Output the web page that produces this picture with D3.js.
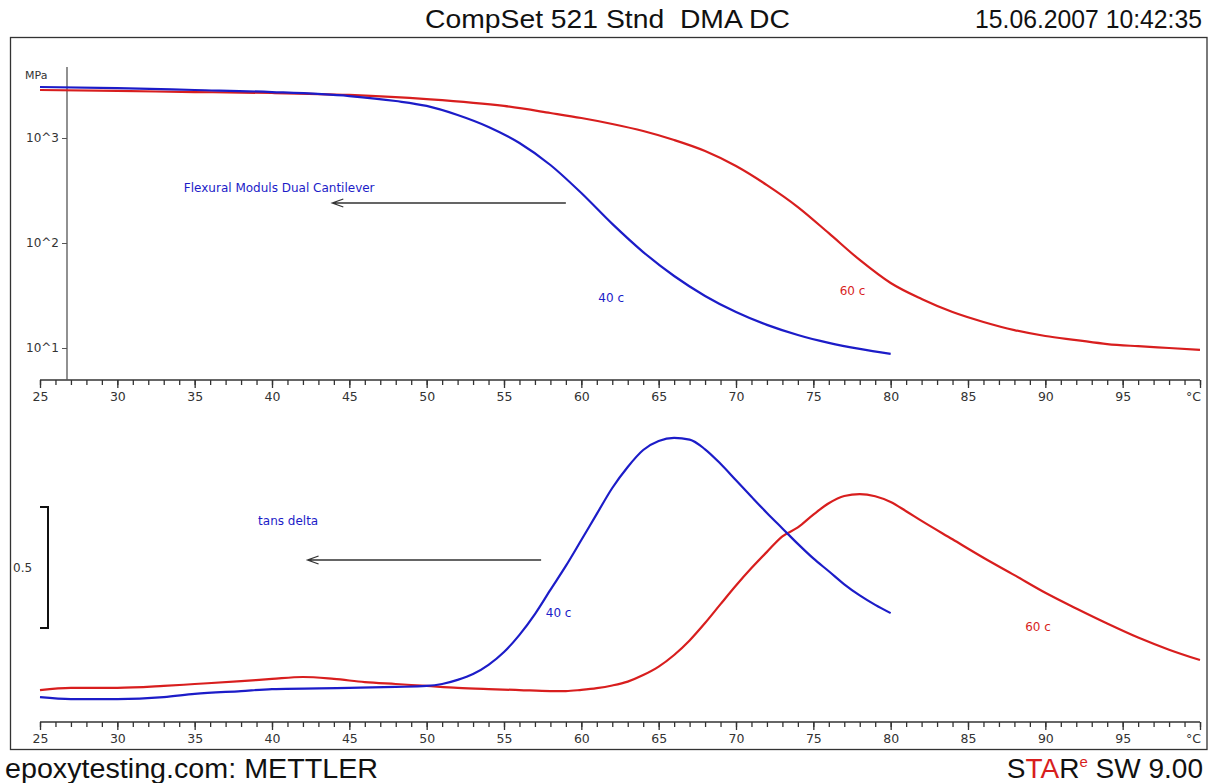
<!DOCTYPE html>
<html><head><meta charset="utf-8">
<script src="https://cdn.jsdelivr.net/npm/d3@7/dist/d3.min.js"></script>
<style>
html,body{margin:0;padding:0;background:#fff;}
svg{display:block;}
</style></head>
<body><svg id="c" width="1210" height="783"></svg>
<script>
// ---- data ----
const modTemp40 = [25,30,35,40,45,48,50,52,54,56,58,60,62,64,66,68,70,72,74,76,78,80];
const modVal40  = [3060,2990,2865,2740,2510,2250,2020,1655,1273,896,553,299,152,82,48.5,31.3,22.0,16.6,13.3,11.2,9.8,8.8];
const modTemp60 = [25,30,35,40,45,50,55,58,60,62,64,66,68,70,72,74,76,78,80,82,84,86,88,90,92,94,96,98,100];
const modVal60  = [2865,2805,2740,2683,2570,2350,2020,1730,1550,1360,1166,957,752,541,356,220,124,69,41.6,29.3,22.0,17.7,14.8,13.0,11.9,10.9,10.4,10.0,9.6];
const tanTemp40 = [25,27,30,33,35,38,40,45,48,50,51,52,53,54,55,56,57,58,59,60,61,62,63,64,65,66,67,68,69,70,71,72,73,74,75,76,77,78,79,80];
const tanVal40  = [0.074,0.066,0.066,0.074,0.087,0.099,0.107,0.112,0.116,0.120,0.128,0.145,0.169,0.207,0.260,0.331,0.417,0.517,0.616,0.723,0.831,0.938,1.025,1.095,1.132,1.145,1.138,1.098,1.038,0.970,0.902,0.835,0.771,0.707,0.647,0.594,0.540,0.494,0.455,0.421];
const tanTemp60 = [25,27,30,33,35,38,40,42,44,46,48,50,52,54,56,58,59,60,61,62,63,64,65,66,67,68,69,70,71,72,73,74,75,76,77,78,79,80,81,82,84,86,88,90,92,94,96,98,100];
const tanVal60  = [0.103,0.112,0.112,0.120,0.128,0.140,0.149,0.157,0.149,0.136,0.128,0.120,0.112,0.107,0.103,0.099,0.099,0.104,0.111,0.122,0.138,0.165,0.200,0.248,0.308,0.380,0.458,0.535,0.607,0.674,0.738,0.775,0.828,0.875,0.905,0.913,0.904,0.880,0.842,0.802,0.726,0.650,0.578,0.505,0.440,0.378,0.320,0.270,0.227];
const xTickLabels = ["25","30","35","40","45","50","55","60","65","70","75","80","85","90","95","°C"];
const yTickValues = [1000,100,10];
const yTickLabels = ["10^3","10^2","10^1"];

const BLUE = "#1c1cc8", RED = "#d81e1e";
const FONT = "'DejaVu Sans',Verdana,sans-serif";
const svg = d3.select("#c");

// ---- scales ----
const x = d3.scaleLinear().domain([25,100]).range([40,1200]);
const yMod = d3.scaleLog().domain([10,1000]).range([348,138]);
const yTan = d3.scaleLinear().domain([0,0.5]).range([715,594]);

// frame
svg.append("rect").attr("x",10.5).attr("y",37.5).attr("width",1196.5).attr("height",712)
  .attr("fill","none").attr("stroke","#333").attr("stroke-width",1.3);

// header / footer
svg.append("text").attr("x",425).attr("y",28)
  .attr("textLength",365).attr("lengthAdjust","spacingAndGlyphs")
  .style("font-family","'Liberation Sans',Arial,sans-serif")
  .style("font-size","25px").attr("fill","#111").text("CompSet 521 Stnd\u00a0\u00a0DMA DC");
svg.append("text").attr("x",975).attr("y",28)
  .attr("textLength",227).attr("lengthAdjust","spacingAndGlyphs")
  .style("font-family","'Liberation Sans',Arial,sans-serif")
  .style("font-size","25px").attr("fill","#111").text("15.06.2007 10:42:35");
svg.append("text").attr("x",5).attr("y",778)
  .attr("textLength",373).attr("lengthAdjust","spacingAndGlyphs")
  .style("font-family","'Liberation Sans',Arial,sans-serif")
  .style("font-size","27px").attr("fill","#111").text("epoxytesting.com: METTLER");
const star = svg.append("text").attr("x",1203).attr("y",778).attr("text-anchor","end")
  .style("font-family","'Liberation Sans',Arial,sans-serif")
  .style("font-size","28px").attr("fill","#111");
star.append("tspan").text("S");
star.append("tspan").attr("fill",RED).text("TA");
star.append("tspan").text("R");
star.append("tspan").attr("fill",RED).attr("dy",-11).style("font-size","15px").text("e");
star.append("tspan").attr("dy",11).text(" SW 9.00");

// x axes
function xAxis(yPos){
  const g = svg.append("g").attr("transform",`translate(0,${yPos})`);
  g.call(d3.axisBottom(x).tickValues(d3.range(25,101,1)).tickSize(5).tickFormat(""));
  g.selectAll(".tick line").attr("stroke","#333").attr("stroke-width",1.3);
  g.select(".domain").attr("stroke","#333").attr("stroke-width",1.3).attr("d",`M40,0H1200`);
  const g2 = svg.append("g").attr("transform",`translate(0,${yPos})`);
  g2.call(d3.axisBottom(x).tickValues(d3.range(25,101,5)).tickSize(8)
     .tickFormat((d,i)=>xTickLabels[i]).tickPadding(4));
  g2.select(".domain").remove();
  g2.selectAll(".tick line").attr("stroke","#333").attr("stroke-width",1.3);
  g2.selectAll(".tick text").style("font-family",FONT).style("font-size","12.5px").attr("fill","#333");
  g2.selectAll(".tick").filter((d)=>d===100).select("text").attr("dx",-7);
}
xAxis(380);
xAxis(722);

// upper y axis
const ya = svg.append("g").attr("transform","translate(67,0)");
ya.call(d3.axisLeft(yMod).tickValues(yTickValues).tickSize(5).tickFormat((d,i)=>yTickLabels[i]).tickPadding(3));
ya.select(".domain").attr("stroke","#555").attr("stroke-width",1.3).attr("d","M0,67V380");
ya.selectAll(".tick line").attr("stroke","#555");
ya.selectAll(".tick text").style("font-family",FONT).style("font-size","12px").attr("fill","#333");
svg.append("text").attr("x",25).attr("y",79).style("font-family",FONT)
  .style("font-size","11px").attr("fill","#333").text("MPa");

// tan delta scale bracket (0.5)
const b0 = yTan(0.36), b1 = yTan(0.86);
svg.append("path").attr("d",`M40,${b1}H48V${b0}H40`).attr("fill","none").attr("stroke","#111").attr("stroke-width",2);
svg.append("text").attr("x",13).attr("y",(b0+b1)/2+5).style("font-family",FONT)
  .style("font-size","12px").attr("fill","#333").text("0.5");

// curves
function curve(tx, vals, ys, color){
  const data = tx.map((t,i)=>[t, vals[i]]);
  svg.append("path").datum(data)
    .attr("d", d3.line().x(d=>x(d[0])).y(d=>ys(d[1])).curve(d3.curveMonotoneX))
    .attr("fill","none").attr("stroke",color).attr("stroke-width",2.2);
}
curve(modTemp60, modVal60, yMod, RED);
curve(modTemp40, modVal40, yMod, BLUE);
curve(tanTemp60, tanVal60, yTan, RED);
curve(tanTemp40, tanVal40, yTan, BLUE);

// annotations
function label(t, v, ys, txt, color){
  svg.append("text").attr("x",x(t)).attr("y",ys(v)).style("font-family",FONT)
    .style("font-size","12px").attr("fill",color).text(txt);
}
function arrow(t0, t1, v, ys){
  const y0 = ys(v), xa = x(t0), xb = x(t1);
  svg.append("path").attr("d",`M${xa},${y0}H${xb}M${xb+11},${y0-4}L${xb},${y0}L${xb+11},${y0+4}`)
    .attr("fill","none").attr("stroke","#333").attr("stroke-width",1.3);
}
label(34.3, 10**(3-(192-138)/105), yMod, "Flexural Moduls Dual Cantilever", BLUE);
arrow(59.0, 43.9, 10**(3-(203-138)/105), yMod);
label(61.1, 10**(3-(302-138)/105), yMod, "40 c", BLUE);
label(76.7, 10**(3-(295-138)/105), yMod, "60 c", RED);
label(39.1, (715-525)/242, yTan, "tans delta", BLUE);
arrow(57.4, 42.3, (715-560)/242, yTan);
label(57.7, (715-617)/242, yTan, "40 c", BLUE);
label(88.7, (715-631)/242, yTan, "60 c", RED);
</script></body></html>
